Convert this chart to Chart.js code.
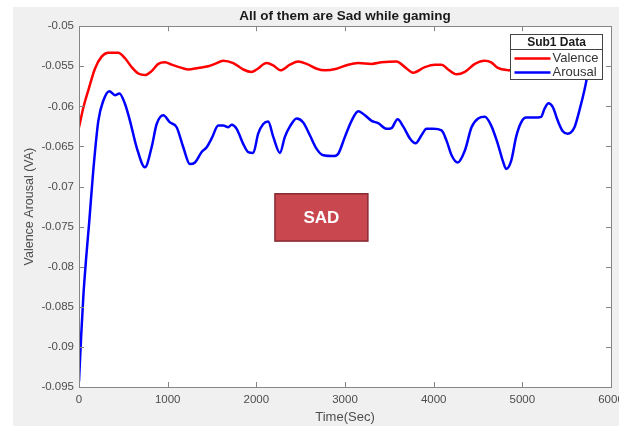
<!DOCTYPE html>
<html>
<head>
<meta charset="utf-8">
<script src="https://cdn.jsdelivr.net/npm/chart.js@4.4.1/dist/chart.umd.min.js"></script>
<style>
    html, body { margin: 0; padding: 0; overflow: hidden; background: #fff; }
    #wrap { width: 630px; height: 426px; }
</style>
</head>
<body>
<div id="wrap"><canvas id="chart" width="630" height="426"></canvas></div>
<script>
// sample times (sec) and values
const valenceTime = [0, 50, 105, 180, 255, 330, 443, 519, 594, 669,
    744, 819, 894, 970, 1045, 1158, 1233, 1345, 1458, 1533,
    1627, 1740, 1853, 1947, 2003, 2116, 2191, 2273, 2379, 2473,
    2567, 2680, 2773, 2905, 3036, 3149, 3300, 3412, 3581, 3675,
    3769, 3901, 4014, 4089, 4164, 4258, 4352, 4464, 4574, 4649,
    4724, 4856, 5000, 5200, 5450, 5760];
const valence = [-0.0626, -0.0601, -0.058, -0.0553, -0.0538, -0.0533, -0.0533, -0.054, -0.0551, -0.0559,
    -0.0561, -0.0556, -0.0547, -0.0545, -0.0548, -0.0552, -0.0554, -0.0552, -0.055, -0.0547,
    -0.0543, -0.0546, -0.0554, -0.0557, -0.0554, -0.0546, -0.0549, -0.0555, -0.0548, -0.0544,
    -0.0547, -0.0553, -0.0555, -0.0553, -0.0548, -0.0546, -0.0547, -0.0545, -0.0544, -0.0551,
    -0.0558, -0.0551, -0.0548, -0.0548, -0.0554, -0.056, -0.0557, -0.0547, -0.0543, -0.0545,
    -0.0552, -0.0555, -0.0556, -0.0555, -0.0554, -0.0555];

const arousalTime = [0, 25, 50, 80, 116, 161, 218, 274, 342, 406,
    455, 519, 575, 650, 744, 819, 876, 951, 1026, 1101,
    1176, 1251, 1308, 1383, 1440, 1496, 1571, 1627, 1683, 1721,
    1778, 1853, 1909, 1965, 2021, 2078, 2134, 2191, 2266, 2322,
    2379, 2454, 2529, 2604, 2680, 2755, 2867, 2924, 2999, 3074,
    3149, 3224, 3300, 3374, 3469, 3525, 3593, 3656, 3732, 3796,
    3863, 3920, 3994, 4089, 4146, 4202, 4270, 4352, 4427, 4502,
    4577, 4649, 4724, 4780, 4818, 4874, 4930, 4987, 5043, 5137,
    5212, 5250, 5295, 5344, 5400, 5456, 5513, 5588, 5644, 5700,
    5738, 5760];
const arousal = [-0.0943, -0.0885, -0.0835, -0.079, -0.0743, -0.068, -0.0618, -0.0593, -0.0581, -0.0586,
    -0.0584, -0.0597, -0.0618, -0.0651, -0.0676, -0.0651, -0.0622, -0.0611, -0.062, -0.0626,
    -0.0651, -0.0672, -0.067, -0.0657, -0.0651, -0.064, -0.0624, -0.0624, -0.0626, -0.0623,
    -0.0628, -0.0647, -0.0657, -0.0658, -0.0634, -0.0622, -0.0619, -0.0638, -0.0658, -0.0638,
    -0.0625, -0.0615, -0.062, -0.0636, -0.0653, -0.0661, -0.0662, -0.0659, -0.0638, -0.0618,
    -0.0606, -0.0611, -0.0618, -0.0621, -0.0628, -0.0627, -0.0616, -0.0625, -0.064, -0.0646,
    -0.0636, -0.0628, -0.0628, -0.063, -0.0643, -0.0661, -0.067, -0.0655, -0.0626, -0.0615,
    -0.0613, -0.0624, -0.0647, -0.0668, -0.0678, -0.0668, -0.0638, -0.062, -0.0614, -0.0614,
    -0.0613, -0.0603, -0.0596, -0.0601, -0.0618, -0.0631, -0.0634, -0.0626, -0.0605, -0.058,
    -0.0559, -0.0545];

const xTicks = [0, 1000, 2000, 3000, 4000, 5000, 6000];
const yTicks = [-0.095, -0.09, -0.085, -0.08, -0.075, -0.07, -0.065, -0.06, -0.055, -0.05];

const seriesNames = ["Valence", "Arousal"];
const legendTitle = "Sub1 Data";
// text box, in data units: [t0, t1, v top, v bottom]
const sadLabel = "SAD";
const sadBox = [2210, 3258, -0.0709, -0.0768];

const FONT = "'Liberation Sans', Arial, sans-serif";
const AXIS_GREY = "#868686";

function toPoints(xs, ys) {
    return xs.map((x, i) => ({ x: x, y: ys[i] }));
}

const figurePlugin = {
    id: "figure",
    beforeDraw(chart) {
        let { ctx, chartArea: a } = chart;
        ctx.save();
        ctx.fillStyle = "#ffffff";
        ctx.fillRect(0, 0, chart.width, chart.height);
        ctx.fillStyle = "#f0f0f0";
        ctx.fillRect(13, 7, chart.width - 13, chart.height - 7);
        ctx.fillStyle = "#ffffff";
        ctx.fillRect(a.left, a.top, a.right - a.left, a.bottom - a.top);
        ctx.restore();
    },
    afterDatasetsDraw(chart) {
        let { ctx, chartArea: a, scales } = chart;
        let xs = scales.x, ys = scales.y;
        ctx.save();

        // SAD box
        let bx0 = xs.getPixelForValue(sadBox[0]), bx1 = xs.getPixelForValue(sadBox[1]);
        let by0 = ys.getPixelForValue(sadBox[2]), by1 = ys.getPixelForValue(sadBox[3]);
        ctx.fillStyle = "#c9474f";
        ctx.fillRect(bx0, by0, bx1 - bx0, by1 - by0);
        ctx.strokeStyle = "#862a31";
        ctx.lineWidth = 1.5;
        ctx.strokeRect(bx0, by0, bx1 - bx0, by1 - by0);
        ctx.fillStyle = "#ffffff";
        ctx.font = "bold 17px " + FONT;
        ctx.textAlign = "center";
        ctx.textBaseline = "middle";
        ctx.fillText(sadLabel, (bx0 + bx1) / 2, (by0 + by1) / 2 + 1);

        // axes box + inward ticks
        ctx.strokeStyle = AXIS_GREY;
        ctx.lineWidth = 1;
        ctx.beginPath();
        xTicks.forEach((t) => {
            let px = Math.round(xs.getPixelForValue(t)) + 0.5;
            ctx.moveTo(px, a.bottom);
            ctx.lineTo(px, a.bottom - 5);
            ctx.moveTo(px, a.top);
            ctx.lineTo(px, a.top + 5);
        });
        yTicks.forEach((v) => {
            let py = Math.round(ys.getPixelForValue(v)) + 0.5;
            ctx.moveTo(a.left, py);
            ctx.lineTo(a.left + 5, py);
            ctx.moveTo(a.right, py);
            ctx.lineTo(a.right - 5, py);
        });
        ctx.stroke();
        ctx.strokeRect(Math.round(a.left) + 0.5, Math.round(a.top) + 0.5,
            Math.round(a.right - a.left), Math.round(a.bottom - a.top));

        // legend
        let lw = 92, lh = 45;
        let lx = Math.round(a.right - 101) + 0.5, ly = Math.round(a.top + 8) + 0.5;
        ctx.fillStyle = "#ffffff";
        ctx.fillRect(lx, ly, lw, lh);
        ctx.strokeStyle = "#444444";
        ctx.strokeRect(lx, ly, lw, lh);
        ctx.beginPath();
        ctx.moveTo(lx, ly + 15);
        ctx.lineTo(lx + lw, ly + 15);
        ctx.stroke();
        ctx.fillStyle = "#1a1a1a";
        ctx.font = "bold 12px " + FONT;
        ctx.textAlign = "center";
        ctx.fillText(legendTitle, lx + lw / 2, ly + 8);
        ctx.font = "13px " + FONT;
        ctx.textAlign = "left";
        chart.data.datasets.forEach((ds, i) => {
            let yy = ly + 24 + i * 14;
            ctx.strokeStyle = ds.borderColor;
            ctx.lineWidth = 2.5;
            ctx.beginPath();
            ctx.moveTo(lx + 4, yy);
            ctx.lineTo(lx + 40, yy);
            ctx.stroke();
            ctx.fillStyle = "#333333";
            ctx.fillText(seriesNames[i], lx + 42, yy);
        });
        ctx.restore();
    },
};

new Chart(document.getElementById("chart"), {
    type: "line",
    data: {
        datasets: [
            {
                label: seriesNames[0],
                data: toPoints(valenceTime, valence),
                borderColor: "#ff0000",
                borderWidth: 2.5,
                pointRadius: 0,
                cubicInterpolationMode: "monotone",
                fill: false,
            },
            {
                label: seriesNames[1],
                data: toPoints(arousalTime, arousal),
                borderColor: "#0000ff",
                borderWidth: 2.5,
                pointRadius: 0,
                cubicInterpolationMode: "monotone",
                fill: false,
            },
        ],
    },
    options: {
        responsive: false,
        animation: false,
        layout: { padding: { left: 14, right: 19, top: 0, bottom: 1 } },
        plugins: {
            legend: { display: false },
            tooltip: { enabled: false },
            title: {
                display: true,
                text: "All of them are Sad while gaming",
                fullSize: false,
                color: "#1a1a1a",
                font: { family: FONT, size: 13.5, weight: "bold" },
                padding: { top: 8, bottom: 2 },
            },
        },
        scales: {
            x: {
                type: "linear",
                min: 0,
                max: 6000,
                afterBuildTicks: (s) => { s.ticks = xTicks.map((v) => ({ value: v })); },
                afterFit: (s) => { s.height = 38; },
                grid: { display: false, drawTicks: false },
                border: { display: false },
                ticks: {
                    color: "#4d4d4d",
                    font: { family: FONT, size: 11.5 },
                    padding: 6,
                    maxRotation: 0,
                    callback: (v) => String(v),
                },
                title: {
                    display: true,
                    text: "Time(Sec)",
                    color: "#4d4d4d",
                    font: { family: FONT, size: 13 },
                    padding: { top: 0, bottom: 0 },
                },
            },
            y: {
                min: -0.095,
                max: -0.05,
                afterBuildTicks: (s) => { s.ticks = yTicks.map((v) => ({ value: v })); },
                afterFit: (s) => { s.width = 65; },
                grid: { display: false, drawTicks: false },
                border: { display: false },
                ticks: {
                    color: "#4d4d4d",
                    font: { family: FONT, size: 11.5 },
                    padding: 5,
                    callback: (v) => String(+v.toFixed(3)),
                },
                title: {
                    display: true,
                    text: "Valence Arousal (VA)",
                    color: "#4d4d4d",
                    font: { family: FONT, size: 12.5 },
                    padding: { top: 8, bottom: 0 },
                },
            },
        },
    },
    plugins: [figurePlugin],
});
</script>
</body>
</html>
